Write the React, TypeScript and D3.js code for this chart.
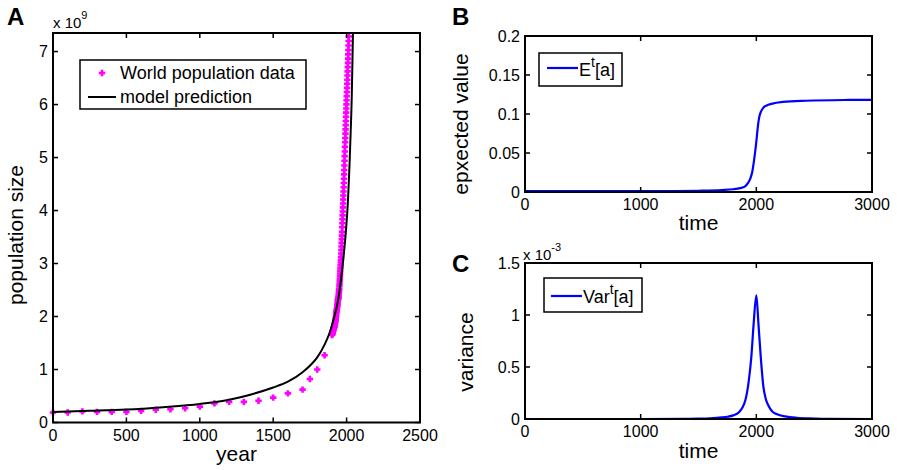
import React from 'react';
import * as d3 from 'd3';

// ---------- Panel A data (population in units of 1e9) ----------
const histYears = [0, 100, 200, 300, 400, 500, 600, 700, 800, 900, 1000, 1100, 1200, 1300, 1400, 1500, 1600, 1700, 1750, 1800, 1850];
const histPop = [0.19, 0.19, 0.21, 0.2, 0.2, 0.2, 0.22, 0.24, 0.25, 0.27, 0.3, 0.36, 0.39, 0.39, 0.41, 0.47, 0.55, 0.62, 0.82, 1.0, 1.27];

const modernStartYear = 1900;
const modernPop = [
  1.65, 1.66, 1.67, 1.68, 1.69, 1.7, 1.711, 1.722, 1.733, 1.744,
  1.75, 1.761, 1.772, 1.783, 1.794, 1.8, 1.808, 1.816, 1.82, 1.83,
  1.86, 1.875, 1.89, 1.905, 1.92, 1.94, 1.96, 1.98, 2.0, 2.03,
  2.07, 2.085, 2.105, 2.125, 2.145, 2.17, 2.19, 2.21, 2.23, 2.26,
  2.3, 2.31, 2.325, 2.34, 2.355, 2.37, 2.4, 2.44, 2.47, 2.5,
  2.525, 2.572, 2.619, 2.665, 2.713, 2.762, 2.813, 2.865, 2.918, 2.966,
  3.018, 3.067, 3.123, 3.19, 3.256, 3.322, 3.389, 3.458, 3.527, 3.597,
  3.685, 3.76, 3.835, 3.909, 3.982, 4.059, 4.134, 4.208, 4.283, 4.36,
  4.438, 4.52, 4.601, 4.683, 4.766, 4.851, 4.938, 5.026, 5.114, 5.201,
  5.288, 5.369, 5.451, 5.531, 5.611, 5.69, 5.769, 5.847, 5.925, 6.003,
  6.08, 6.158, 6.236, 6.314, 6.391, 6.469, 6.547, 6.626, 6.706, 6.786,
  6.867, 6.947, 7.03, 7.114, 7.198, 7.283
];

const modelYears = [0, 250, 500, 750, 1000, 1200, 1350, 1500, 1600, 1700, 1760, 1800, 1850, 1880, 1910, 1945, 1973, 1995, 2010, 2020, 2028, 2035, 2040, 2045];
const modelPop = [0.2, 0.22, 0.245, 0.29, 0.35, 0.43, 0.53, 0.66, 0.77, 0.95, 1.1, 1.23, 1.47, 1.66, 1.93, 2.35, 2.97, 3.6, 4.23, 4.87, 5.5, 6.14, 6.85, 7.6];

const aXTicks = [0, 500, 1000, 1500, 2000, 2500];
const aYTicks = [0, 1, 2, 3, 4, 5, 6, 7];

// ---------- Panel B data ----------
const expYears = [0, 500, 1000, 1300, 1500, 1700, 1800, 1860, 1900, 1930, 1950, 1965, 1975, 1985, 1995, 2005, 2015, 2025, 2040, 2060, 2090, 2130, 2230, 2430, 2800, 3000];
const expVals = [0.001, 0.001, 0.001, 0.0012, 0.0016, 0.0025, 0.0035, 0.005, 0.007, 0.012, 0.018, 0.026, 0.035, 0.046, 0.058, 0.072, 0.086, 0.096, 0.103, 0.108, 0.111, 0.113, 0.1155, 0.117, 0.118, 0.1182];
const bXTicks = [0, 1000, 2000, 3000];
const bYTicks = [0, 0.05, 0.1, 0.15, 0.2];

// ---------- Panel C data (variance in units of 1e-3) ----------
const varYears = [0, 1000, 1400, 1500, 1600, 1700, 1750, 1800, 1850, 1880, 1905, 1935, 1957, 1977, 2000, 2018, 2038, 2061, 2080, 2104, 2140, 2180, 2250, 2350, 2500, 2600, 3000];
const varVals = [0, 0, 0.002, 0.004, 0.007, 0.015, 0.022, 0.035, 0.065, 0.11, 0.18, 0.37, 0.6, 0.92, 1.19, 0.92, 0.6, 0.31, 0.2, 0.13, 0.07, 0.045, 0.025, 0.012, 0.005, 0.002, 0];
const cYTicks = [0, 0.5, 1, 1.5];

const FONT = '"Liberation Sans", Arial, Helvetica, sans-serif';
const TICK_FS = 16;
const LABEL_FS = 21;
const LEG_FS = 18;

type Box = { l: number; r: number; t: number; b: number };

function Frame({ box, xs, ys, xTicks, yTicks, yFmt }: { box: Box; xs: any; ys: any; xTicks: number[]; yTicks: number[]; yFmt: (v: number) => string }) {
  const tl = 5;
  return (
    <g>
      {xTicks.map((v) => (
        <g key={'x' + v}>
          <line x1={xs(v)} x2={xs(v)} y1={box.b} y2={box.b - tl} stroke="#000" strokeWidth={1.5} />
          <line x1={xs(v)} x2={xs(v)} y1={box.t} y2={box.t + tl} stroke="#000" strokeWidth={1.5} />
          <text x={xs(v)} y={box.b + 18} textAnchor="middle" fontSize={TICK_FS} fontFamily={FONT}>{String(v)}</text>
        </g>
      ))}
      {yTicks.map((v) => (
        <g key={'y' + v}>
          <line x1={box.l} x2={box.l + tl} y1={ys(v)} y2={ys(v)} stroke="#000" strokeWidth={1.5} />
          <line x1={box.r} x2={box.r - tl} y1={ys(v)} y2={ys(v)} stroke="#000" strokeWidth={1.5} />
          <text x={box.l - 5} y={ys(v)} dy="0.35em" textAnchor="end" fontSize={TICK_FS} fontFamily={FONT}>{yFmt(v)}</text>
        </g>
      ))}
      <rect x={box.l} y={box.t} width={box.r - box.l} height={box.b - box.t} fill="none" stroke="#000" strokeWidth={2} />
    </g>
  );
}

const plusPath = 'M-3.2,0H3.2M0,-3.2V3.2';

export default function App() {
  // Panel A
  const boxA: Box = { l: 53, r: 420, t: 33, b: 422.5 };
  const xA = d3.scaleLinear().domain([0, 2500]).range([boxA.l, boxA.r]);
  const yA = d3.scaleLinear().domain([0, 7.35]).range([boxA.b, boxA.t]);
  const modelLine = d3.line<number>().x((_, i) => xA(modelYears[i])).y((d) => yA(d)).curve(d3.curveMonotoneX)(modelPop) || '';
  const dataPts = [
    ...histYears.map((y, i) => [y, histPop[i]]),
    ...modernPop.map((v, i) => [modernStartYear + i, v]),
  ];

  // Panel B
  const boxB: Box = { l: 525, r: 872, t: 36, b: 192 };
  const xB = d3.scaleLinear().domain([0, 3000]).range([boxB.l, boxB.r]);
  const yB = d3.scaleLinear().domain([0, 0.2]).range([boxB.b, boxB.t]);
  const expLine = d3.line<number>().x((_, i) => xB(expYears[i])).y((d) => yB(d)).curve(d3.curveMonotoneX)(expVals) || '';

  // Panel C
  const boxC: Box = { l: 525, r: 872, t: 263, b: 419 };
  const xC = d3.scaleLinear().domain([0, 3000]).range([boxC.l, boxC.r]);
  const yC = d3.scaleLinear().domain([0, 1.5]).range([boxC.b, boxC.t]);
  const varLine = d3.line<number>().x((_, i) => xC(varYears[i])).y((d) => yC(d)).curve(d3.curveMonotoneX)(varVals) || '';

  return (
    <svg width={897} height={470} style={{ position: 'absolute', left: 0, top: 0, background: '#fff' }} fontFamily={FONT}>
      <defs>
        <clipPath id="clipA"><rect x={boxA.l} y={boxA.t} width={boxA.r - boxA.l} height={boxA.b - boxA.t} /></clipPath>
        <clipPath id="clipB"><rect x={boxB.l} y={boxB.t} width={boxB.r - boxB.l} height={boxB.b - boxB.t} /></clipPath>
        <clipPath id="clipC"><rect x={boxC.l} y={boxC.t} width={boxC.r - boxC.l} height={boxC.b - boxC.t} /></clipPath>
      </defs>
      <rect x={0} y={0} width={897} height={470} fill="#fff" />

      {/* ---------------- Panel A ---------------- */}
      <text x={7} y={25} fontSize={24} fontWeight="bold">A</text>
      <text x={53} y={28} fontSize={15}>x 10<tspan dy={-9} fontSize={11}>9</tspan></text>
      <g>
        {dataPts.map(([yr, v], i) => (
          <path key={i} d={plusPath} transform={`translate(${xA(yr)},${yA(v)})`} stroke="#ff00ff" strokeWidth={2.6} fill="none" />
        ))}
      </g>
      <path d={modelLine} fill="none" stroke="#000" strokeWidth={2} clipPath="url(#clipA)" />
      <Frame box={boxA} xs={xA} ys={yA} xTicks={aXTicks} yTicks={aYTicks} yFmt={(v) => String(v)} />
      <text x={(boxA.l + boxA.r) / 2} y={461} textAnchor="middle" fontSize={LABEL_FS}>year</text>
      <text transform={`translate(23,235) rotate(-90)`} textAnchor="middle" fontSize={LABEL_FS}>population size</text>
      {/* legend A */}
      <rect x={80} y={60} width={226} height={49} fill="#fff" stroke="#000" strokeWidth={1.5} />
      <path d={plusPath} transform="translate(102,73)" stroke="#ff00ff" strokeWidth={2.6} fill="none" />
      <text x={120} y={79} fontSize={LEG_FS}>World population data</text>
      <line x1={88} x2={116} y1={97} y2={97} stroke="#000" strokeWidth={2} />
      <text x={120} y={103} fontSize={LEG_FS}>model prediction</text>

      {/* ---------------- Panel B ---------------- */}
      <text x={452} y={25} fontSize={24} fontWeight="bold">B</text>
      <path d={expLine} fill="none" stroke="#0000ff" strokeWidth={2.2} clipPath="url(#clipB)" />
      <Frame box={boxB} xs={xB} ys={yB} xTicks={bXTicks} yTicks={bYTicks} yFmt={(v) => String(v)} />
      <text x={(boxB.l + boxB.r) / 2} y={230} textAnchor="middle" fontSize={LABEL_FS}>time</text>
      <text transform={`translate(468,124) rotate(-90)`} textAnchor="middle" fontSize={LABEL_FS}>epxected value</text>
      <rect x={539} y={53} width={83} height={33} fill="#fff" stroke="#000" strokeWidth={1.5} />
      <line x1={547} x2={578} y1={68} y2={68} stroke="#0000ff" strokeWidth={2.2} />
      <text x={579} y={76} fontSize={LEG_FS}>E<tspan dy={-9} fontSize={14}>t</tspan><tspan dy={9}>[a]</tspan></text>

      {/* ---------------- Panel C ---------------- */}
      <text x={452} y={272} fontSize={24} fontWeight="bold">C</text>
      <text x={523} y={260} fontSize={15}>x 10<tspan dy={-9} fontSize={11}>-3</tspan></text>
      <path d={varLine} fill="none" stroke="#0000ff" strokeWidth={2.2} clipPath="url(#clipC)" />
      <Frame box={boxC} xs={xC} ys={yC} xTicks={bXTicks} yTicks={cYTicks} yFmt={(v) => String(v)} />
      <text x={(boxC.l + boxC.r) / 2} y={458} textAnchor="middle" fontSize={LABEL_FS}>time</text>
      <text transform={`translate(473,352) rotate(-90)`} textAnchor="middle" fontSize={LABEL_FS}>variance</text>
      <rect x={544} y={278} width={98} height={34} fill="#fff" stroke="#000" strokeWidth={1.5} />
      <line x1={551} x2={582} y1={296} y2={296} stroke="#0000ff" strokeWidth={2.2} />
      <text x={583} y={303} fontSize={LEG_FS}>Var<tspan dy={-9} fontSize={14}>t</tspan><tspan dy={9}>[a]</tspan></text>
    </svg>
  );
}
